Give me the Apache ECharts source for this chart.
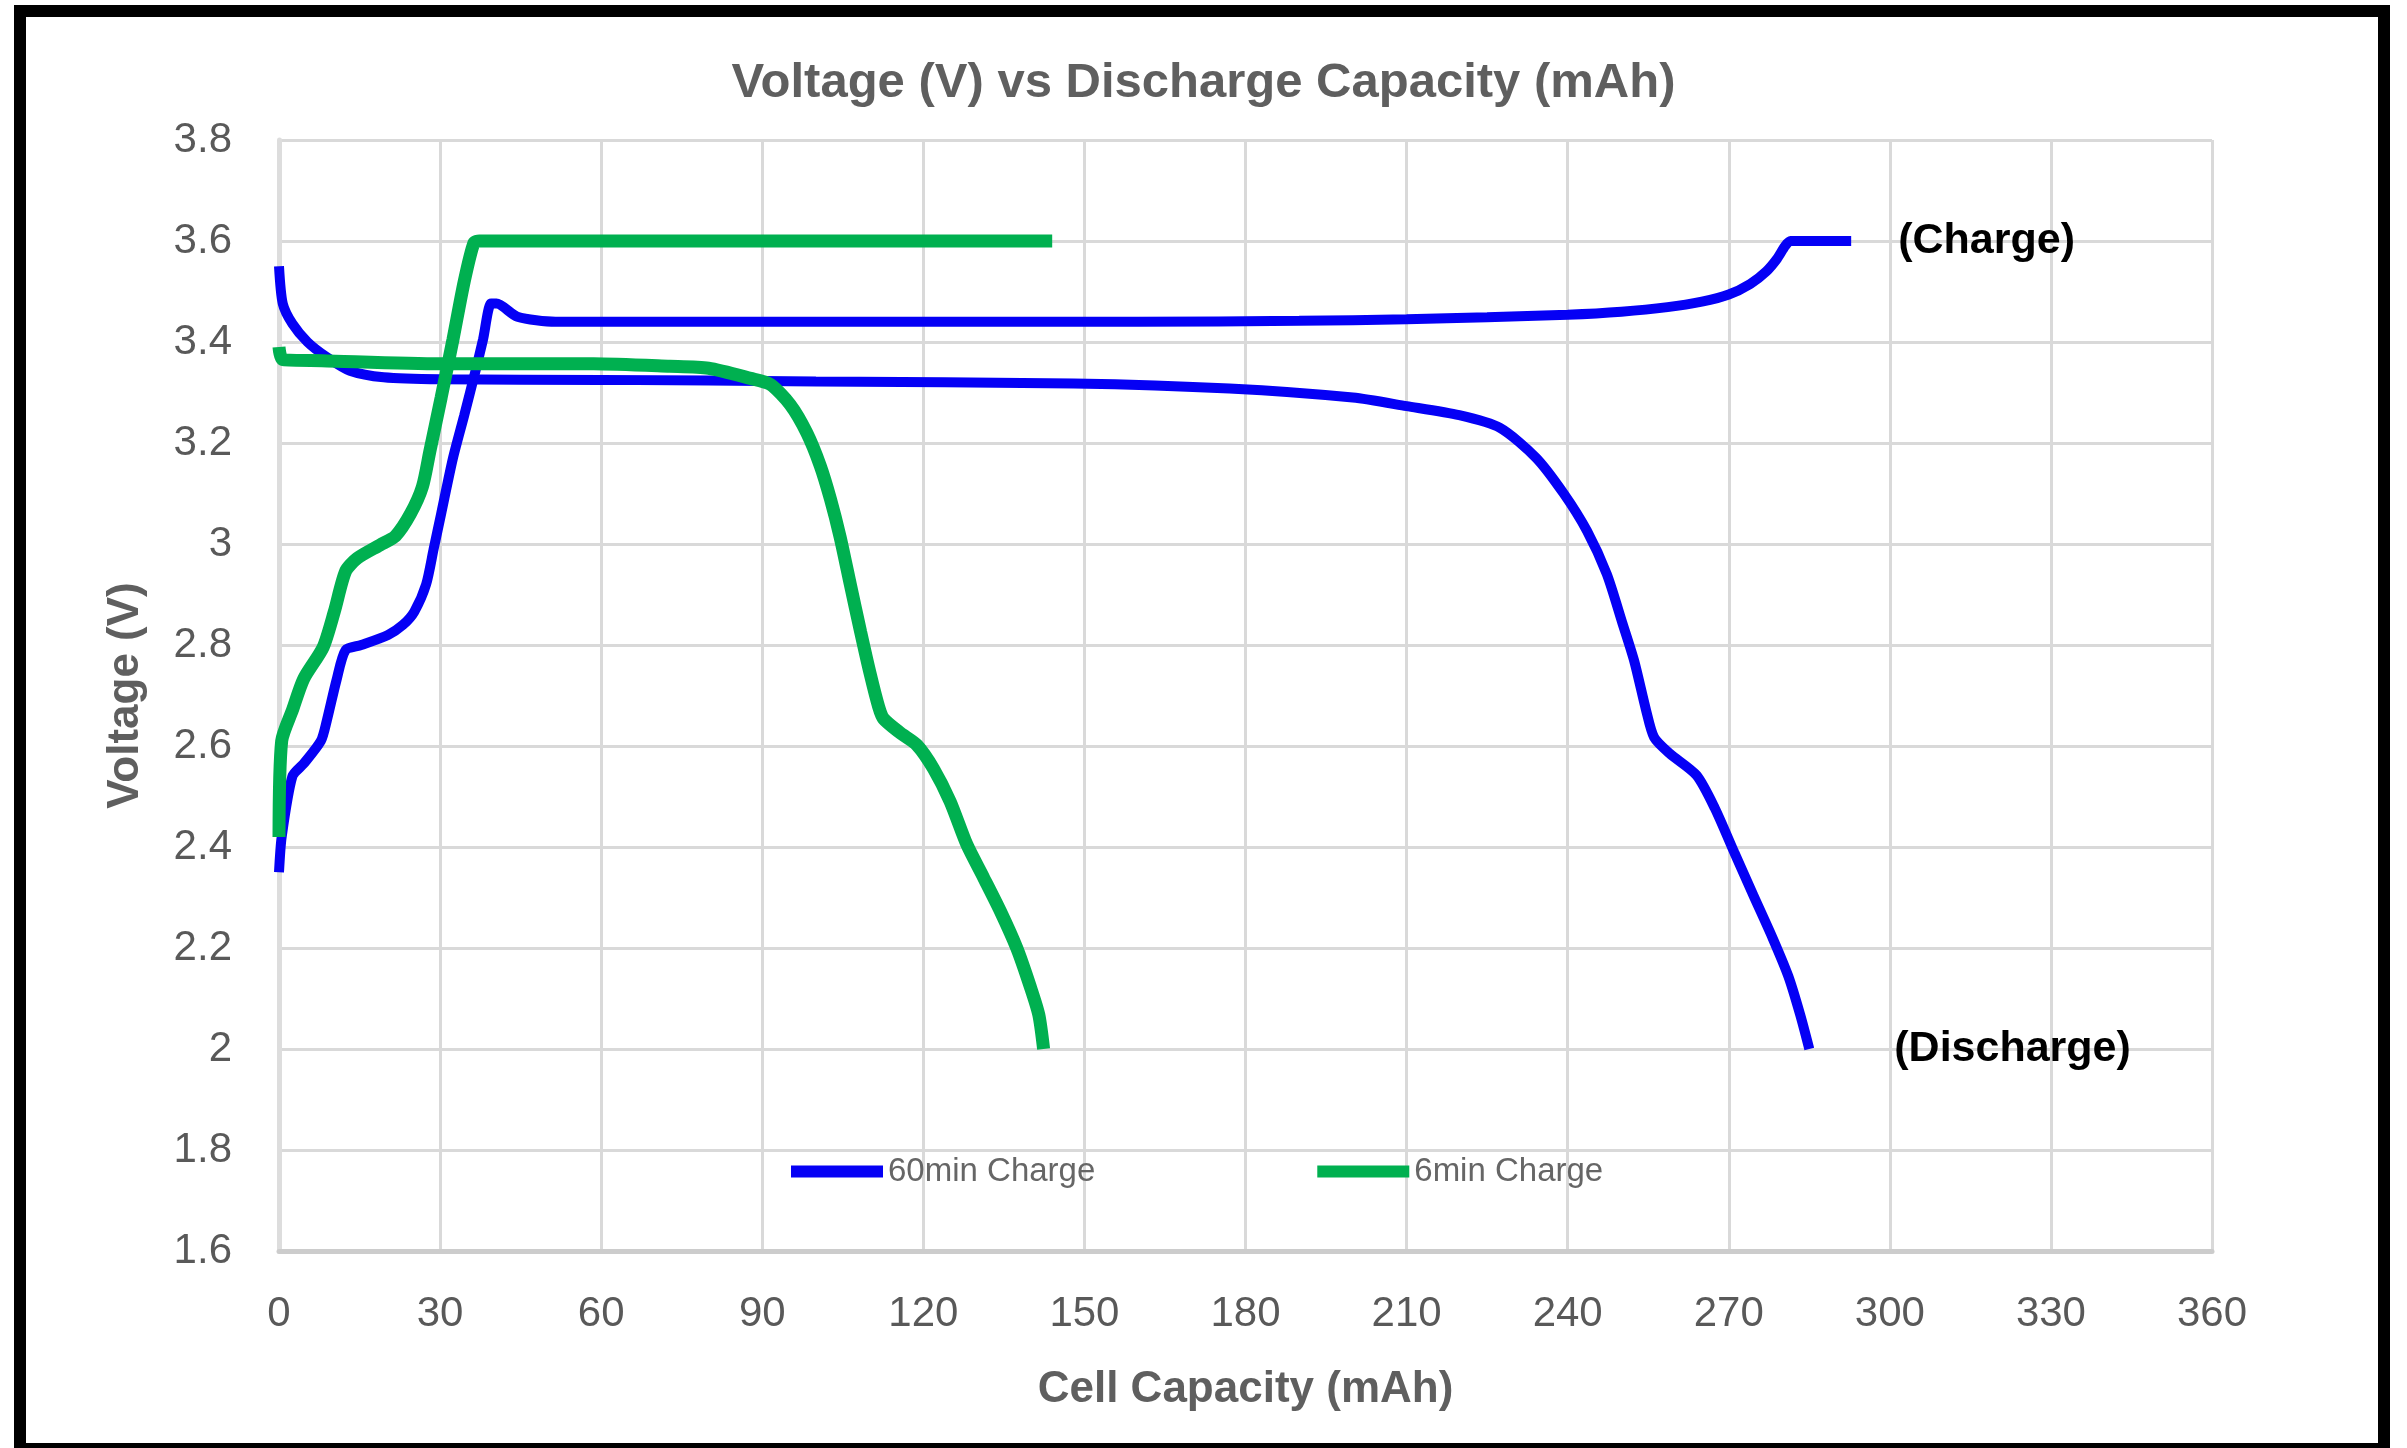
<!DOCTYPE html>
<html>
<head>
<meta charset="utf-8">
<script src="https://cdn.jsdelivr.net/npm/echarts@6/dist/echarts.min.js"></script>
<style>
  html, body { margin: 0; padding: 0; background: #fff; }
  #chart { width: 2407px; height: 1448px; }
</style>
</head>
<body>
<div id="chart"></div>
<script>
// 60 min charge run
var slowChargeCap = [0, 0.5, 2.5, 4.6, 7.8, 8.9, 10.7, 12.4, 15.3, 20.3, 23.1, 25.2, 27.4, 28.8, 30.2, 32.4, 34.5, 36.6, 38, 39.5, 40.5, 44.4, 51.5, 80, 120, 160, 190, 210, 225, 240, 250, 258.6, 265, 270, 274, 277, 279, 280.5, 281.5, 292.8];
var slowChargeV = [2.35, 2.42, 2.54, 2.565, 2.61, 2.65, 2.73, 2.79, 2.80, 2.82, 2.84, 2.866, 2.92, 2.99, 3.06, 3.17, 3.255, 3.343, 3.405, 3.476, 3.476, 3.45, 3.44, 3.44, 3.44, 3.44, 3.442, 3.445, 3.449, 3.454, 3.46, 3.469, 3.48, 3.494, 3.515, 3.54, 3.565, 3.59, 3.6, 3.6];
var slowDischargeCap = [0, 0.7, 2.5, 5.3, 8.9, 13.2, 19.5, 30, 60, 100, 148, 177, 200, 210, 219.8, 227.4, 234.1, 239.2, 243.6, 247.3, 250.2, 252.4, 254.6, 256.1, 259, 264, 267.4, 271, 274.6, 278.2, 281.1, 283.3, 285];
var slowDischargeV = [3.55, 3.476, 3.436, 3.40, 3.37, 3.343, 3.33, 3.326, 3.325, 3.322, 3.318, 3.308, 3.29, 3.273, 3.255, 3.23, 3.171, 3.101, 3.026, 2.94, 2.843, 2.768, 2.671, 2.617, 2.585, 2.542, 2.477, 2.39, 2.304, 2.219, 2.144, 2.068, 2.0];

// 6 min charge run
var fastChargeCap = [0, 0.5, 2.5, 4.6, 8.2, 10.3, 12.4, 14.6, 18.8, 21.7, 24.5, 26.7, 28.1, 30.2, 32.4, 34.5, 36.3, 37.3, 80, 144];
var fastChargeV = [2.42, 2.61, 2.671, 2.733, 2.795, 2.866, 2.946, 2.972, 2.998, 3.016, 3.06, 3.113, 3.184, 3.29, 3.405, 3.52, 3.596, 3.6, 3.6, 3.6];
var fastDischargeCap = [0, 0.7, 8, 30, 58.6, 72.8, 80, 87.8, 91.5, 95.2, 98.3, 100.8, 102.7, 104.5, 106.4, 108.3, 110.1, 111.7, 112.6, 115.7, 118.8, 121.9, 125, 128.1, 131.2, 134.3, 137.4, 139.9, 141.5, 142.4];
var fastDischargeV = [3.39, 3.365, 3.363, 3.357, 3.357, 3.352, 3.348, 3.328, 3.316, 3.276, 3.22, 3.155, 3.089, 3.014, 2.92, 2.827, 2.743, 2.677, 2.654, 2.626, 2.602, 2.555, 2.49, 2.405, 2.34, 2.274, 2.2, 2.124, 2.068, 2.0];

var seriesNames = ['60min Charge', '6min Charge'];

var zip = function(xs, ys) {
    var out = [];
    for (var i = 0; i < xs.length; i++) out.push([xs[i], ys[i]]);
    return out;
};

var FONT = 'Liberation Sans, Arial, sans-serif';
var BLUE = '#0500F5';
var GREEN = '#00B050';

var makeLine = function(name, color, width, data, endText, endGap) {
    var s = {
        name: name,
        type: 'line',
        data: data,
        smooth: 0.25,
        showSymbol: false,
        symbol: 'none',
        lineStyle: { color: color, width: width },
        itemStyle: { color: color },
        emphasis: { disabled: true }
    };
    if (endText) {
        s.endLabel = {
            show: true,
            formatter: endText,
            distance: endGap,
            color: '#000',
            fontFamily: FONT,
            fontWeight: 'bold',
            fontSize: 43
        };
    }
    return s;
};

var chart = echarts.init(document.getElementById('chart'));

var option = {
    backgroundColor: '#fff',
    animation: false,
    title: {
        text: 'Voltage (V) vs Discharge Capacity (mAh)',
        left: 'center',
        top: 54,
        textStyle: { fontFamily: FONT, fontSize: 49, fontWeight: 'bold', color: '#5f5f5f' }
    },
    legend: {
        data: seriesNames,
        left: 786,
        top: 1150,
        icon: 'rect',
        itemWidth: 92,
        itemHeight: 12,
        itemGap: 222,
        textStyle: { fontFamily: FONT, fontSize: 33, color: '#666' }
    },
    grid: { left: 279, right: 195, top: 140, bottom: 197 },
    xAxis: {
        type: 'value',
        min: 0,
        max: 360,
        interval: 30,
        name: 'Cell Capacity (mAh)',
        nameLocation: 'middle',
        nameGap: 117,
        nameTextStyle: { fontFamily: FONT, fontSize: 44, fontWeight: 'bold', color: '#5f5f5f' },
        axisLine: { show: true, lineStyle: { color: '#CCCCCC', width: 5 } },
        axisTick: { show: false },
        axisLabel: { fontFamily: FONT, fontSize: 42, color: '#595959', margin: 42 },
        splitLine: { show: true, lineStyle: { color: '#D9D9D9', width: 3 } }
    },
    yAxis: {
        type: 'value',
        min: 1.6,
        max: 3.8,
        interval: 0.2,
        name: 'Voltage (V)',
        nameLocation: 'middle',
        nameGap: 131,
        nameTextStyle: { fontFamily: FONT, fontSize: 44, fontWeight: 'bold', color: '#5f5f5f' },
        axisLine: { show: true, lineStyle: { color: '#DDDDDD', width: 5 } },
        axisTick: { show: false },
        axisLabel: { fontFamily: FONT, fontSize: 42, color: '#595959', margin: 47 },
        splitLine: { show: true, lineStyle: { color: '#D9D9D9', width: 3 } }
    },
    graphic: [{
        type: 'rect',
        shape: { x: 20, y: 11, width: 2364, height: 1438 },
        style: { fill: 'none', stroke: '#000', lineWidth: 12 },
        silent: true
    }],
    series: [
        makeLine(seriesNames[0], BLUE, 10, zip(slowChargeCap, slowChargeV), '(Charge)', 47),
        makeLine(seriesNames[0], BLUE, 10, zip(slowDischargeCap, slowDischargeV), '(Discharge)', 85),
        makeLine(seriesNames[1], GREEN, 13, zip(fastChargeCap, fastChargeV)),
        makeLine(seriesNames[1], GREEN, 13, zip(fastDischargeCap, fastDischargeV))
    ]
};

chart.setOption(option);
</script>
</body>
</html>
